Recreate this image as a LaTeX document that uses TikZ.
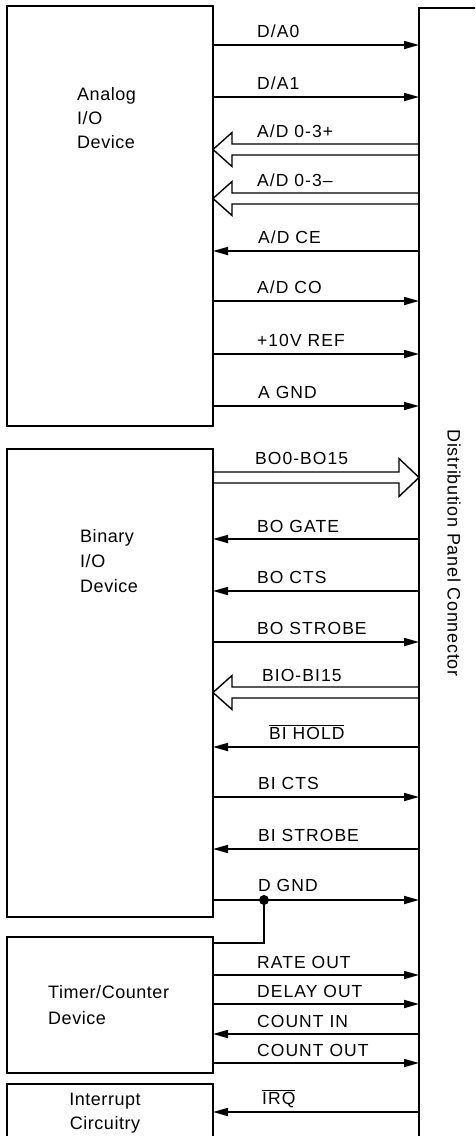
\documentclass[tikz,border=0pt]{standalone}
\usepackage{fontspec}
\setmainfont{Liberation Sans}
\newfontfamily\sigfamily[LetterSpace=6]{Liberation Sans}
\newfontfamily\boxfamily[LetterSpace=3]{Liberation Sans}
\newfontfamily\vertfamily[LetterSpace=4]{Liberation Sans}
\usetikzlibrary{arrows.meta}
\tikzset{
  unitbox/.style={draw, line width=1.6pt, inner sep=0pt, outer sep=0pt, anchor=north west},
  sig/.style={line width=1.7pt},
  tor/.style={sig, -{Triangle[length=15pt,width=8pt]}},
  bus/.style={line width=1.4pt, line join=miter},
  lbl/.style={font=\sigfamily\fontsize{17.5}{21}\selectfont, inner sep=0pt, anchor=base west},
  blbl/.style={font=\boxfamily\fontsize{18}{22}\selectfont, inner sep=0pt, anchor=base west},
}
\newcommand\busleft[3]{% left node, right node, centre y
  \draw[bus] (#2.west |- 0,{#3-5.5}) -- ([xshift=19pt]#1.east |- 0,{#3-5.5})
    -- ([xshift=19pt]#1.east |- 0,{#3-17}) -- (#1.east |- 0,#3)
    -- ([xshift=19pt]#1.east |- 0,{#3+17}) -- ([xshift=19pt]#1.east |- 0,{#3+5.5})
    -- (#2.west |- 0,{#3+5.5});}
\newcommand\busright[3]{% left node, right node, centre y
  \draw[bus] (#1.east |- 0,{#3-5.5}) -- ([xshift=-20pt]#2.west |- 0,{#3-5.5})
    -- ([xshift=-20pt]#2.west |- 0,{#3-19}) -- (#2.west |- 0,#3)
    -- ([xshift=-20pt]#2.west |- 0,{#3+19}) -- ([xshift=-20pt]#2.west |- 0,{#3+5.5})
    -- (#1.east |- 0,{#3+5.5});}
\begin{document}
\begin{tikzpicture}[x=1pt, y=-1pt]
\useasboundingbox (0,0) rectangle (475,1136);
\clip (0,0) rectangle (475,1136);
\fill[white] (0,0) rectangle (475,1136);

% blocks
\node[unitbox, minimum width=206pt, minimum height=420pt] (analog) at (7,6) {};
\node[unitbox, minimum width=206pt, minimum height=468pt] (binary) at (7,449) {};
\node[unitbox, minimum width=206pt, minimum height=136pt] (timer) at (7,937) {};
\node[unitbox, minimum width=206pt, minimum height=80pt] (intr) at (7,1084) {};
\node[unitbox, minimum width=100pt, minimum height=1160pt] (dpc) at (419,8) {};

% block texts
\node[blbl] (t1) at (77,100) {Analog};
\node[blbl] (t2) at (77,124) {I/O};
\node[blbl] (t3) at (77,148) {Device};
\node[blbl] (t4) at (80,542) {Binary};
\node[blbl] (t5) at (80,567) {I/O};
\node[blbl] (t6) at (80,592) {Device};
\node[blbl] (t7) at (48,998) {Timer/Counter};
\node[blbl] (t8) at (48,1024) {Device};
\node[blbl, anchor=base] (t9) at (105,1105) {Interrupt};
\node[blbl, anchor=base] (t10) at (105,1129) {Circuitry};
\node[font=\vertfamily\fontsize{18}{22}\selectfont, rotate=-90, inner sep=0pt] (vt) at (454,553) {Distribution Panel Connector};

% analog signals
\draw[tor] (analog.east |- 0,45) -- (dpc.west |- 0,45);
\node[lbl] (s1) at (257,37) {D/A0};
\draw[tor] (analog.east |- 0,97) -- (dpc.west |- 0,97);
\node[lbl] (s2) at (257,89) {D/A1};
\busleft{analog}{dpc}{149.5}
\node[lbl] (s3) at (257,137) {A/D 0-3+};
\busleft{analog}{dpc}{198.5}
\node[lbl] (s4) at (257,186) {A/D 0-3\textendash};
\draw[tor] (dpc.west |- 0,251) -- (analog.east |- 0,251);
\node[lbl] (s5) at (258,243) {A/D CE};
\draw[tor] (analog.east |- 0,301) -- (dpc.west |- 0,301);
\node[lbl] (s6) at (257,293) {A/D CO};
\draw[tor] (analog.east |- 0,354) -- (dpc.west |- 0,354);
\node[lbl] (s7) at (257,346) {+10V REF};
\draw[tor] (analog.east |- 0,406) -- (dpc.west |- 0,406);
\node[lbl] (s8) at (258,398) {A GND};

% binary signals
\busright{binary}{dpc}{477.5}
\node[lbl] (s9) at (255,464) {BO0-BO15};
\draw[tor] (dpc.west |- 0,539) -- (binary.east |- 0,539);
\node[lbl] (s10) at (257,532) {BO GATE};
\draw[tor] (dpc.west |- 0,591) -- (binary.east |- 0,591);
\node[lbl] (s11) at (257,583) {BO CTS};
\draw[tor] (binary.east |- 0,642) -- (dpc.west |- 0,642);
\node[lbl] (s12) at (257,634) {BO STROBE};
\busleft{binary}{dpc}{692.5}
\node[lbl] (s13) at (262,681) {BIO-BI15};
\draw[tor] (dpc.west |- 0,747) -- (binary.east |- 0,747);
\node[lbl] (s14) at (269,739) {$\overline{\mbox{BI HOLD}}$};
\draw[tor] (binary.east |- 0,797) -- (dpc.west |- 0,797);
\node[lbl] (s15) at (258,789) {BI CTS};
\draw[tor] (dpc.west |- 0,849) -- (binary.east |- 0,849);
\node[lbl] (s16) at (258,841) {BI STROBE};
\draw[tor] (binary.east |- 0,900) -- (dpc.west |- 0,900);
\node[lbl] (s17) at (258,891) {D GND};
\coordinate (dj) at (264,900);
\fill (dj) circle (5pt);
\draw[sig] (dj) -- (dj |- 0,943) -- (timer.east |- 0,943);

% timer signals
\draw[tor] (timer.east |- 0,975) -- (dpc.west |- 0,975);
\node[lbl] (s18) at (257,968) {RATE OUT};
\draw[tor] (timer.east |- 0,1004) -- (dpc.west |- 0,1004);
\node[lbl] (s19) at (257,997) {DELAY OUT};
\draw[tor] (dpc.west |- 0,1034) -- (timer.east |- 0,1034);
\node[lbl] (s20) at (257,1027) {COUNT IN};
\draw[tor] (timer.east |- 0,1063) -- (dpc.west |- 0,1063);
\node[lbl] (s21) at (257,1056) {COUNT OUT};

% interrupt
\draw[tor] (dpc.west |- 0,1112) -- (intr.east |- 0,1112);
\node[lbl] (s22) at (262,1104) {$\overline{\mbox{IRQ}}$};
\end{tikzpicture}
\end{document}
